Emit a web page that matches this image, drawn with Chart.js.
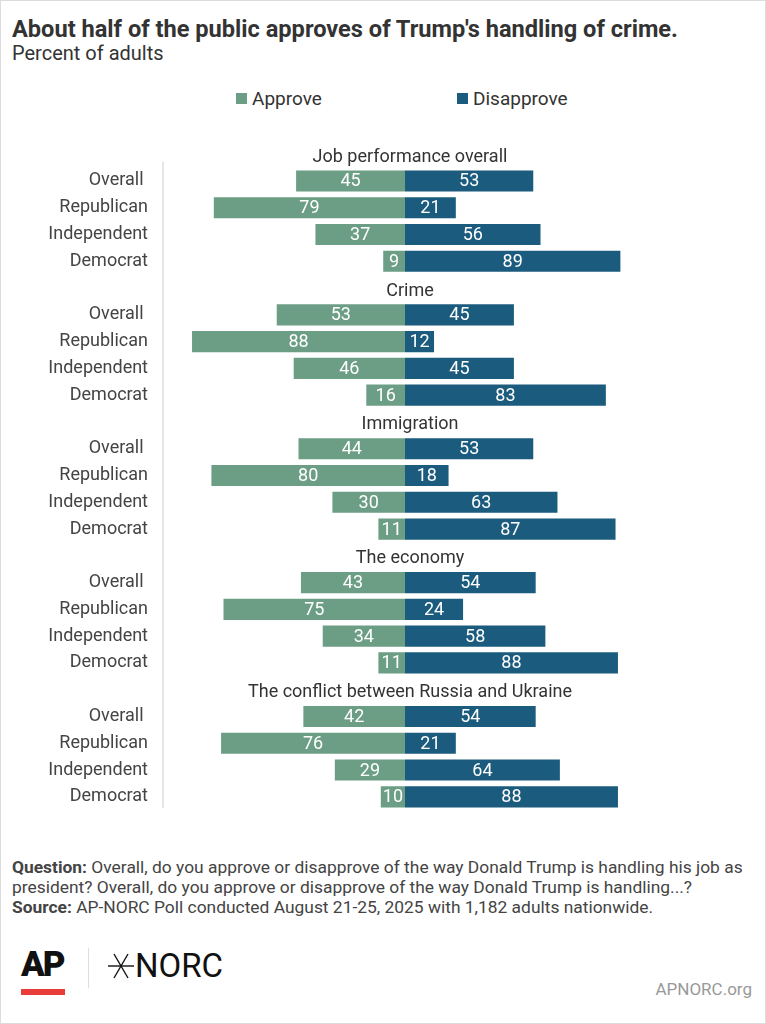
<!DOCTYPE html>
<html lang="en">
<head>
    <meta charset="UTF-8">
    <title>Trump approval by issue</title>
    <script src="https://cdn.jsdelivr.net/npm/chart.js@4.4.1/dist/chart.umd.min.js"></script>
    <style>
        body {
            margin: 0;
            width: 766px;
            height: 1024px;
            background: #fff;
            font-family: Roboto, sans-serif;
            color: #333;
            position: relative;
            overflow: hidden;
        }
        .frame {
            position: absolute;
            left: 0; top: 0;
            width: 764px; height: 1022px;
            border: 1px solid #dcdcdc;
        }
        .title {
            position: absolute;
            left: 12px; top: 15px;
            font-size: 23.6px;
            font-weight: bold;
            color: #333;
        }
        .subtitle {
            position: absolute;
            left: 12px; top: 41px;
            font-size: 20px;
            color: #333;
        }
        .legend {
            position: absolute;
            top: 87px;
            font-size: 19px;
            color: #333;
        }
        .legend span.sw {
            display: inline-block;
            width: 11px; height: 11px;
            margin-right: 5px;
            vertical-align: 1px;
        }
        .chart-box {
            position: absolute;
            left: 0; top: 115px;
            width: 766px; height: 721px;
        }
        .notes {
            position: absolute;
            left: 12px; top: 857px;
            width: 745px;
            font-size: 17.4px;
            line-height: 20px;
            color: #444;
        }
        .ap {
            position: absolute;
            left: 21px; top: 944px;
            font-weight: 900;
            font-size: 35px;
            letter-spacing: -2px;
            color: #111;
        }
        .apbar {
            position: absolute;
            left: 21px; top: 989px;
            width: 44px; height: 6px;
            background: #ea3b3b;
        }
        .sep {
            position: absolute;
            left: 88px; top: 948px;
            width: 1px; height: 40px;
            background: #ddd;
        }
        .norc {
            position: absolute;
            left: 108px; top: 946px;
            font-size: 33px;
            color: #111;
        }
        .norc svg { vertical-align: -2px; margin-right: 1px; }
        .site {
            position: absolute;
            right: 14px; top: 979px;
            font-size: 17px;
            color: #999;
        }
    </style>
</head>
<body>
    <div class="frame"></div>
    <div class="title">About half of the public approves of Trump's handling of crime.</div>
    <div class="subtitle">Percent of adults</div>
    <div class="legend" style="left:236px"><span class="sw" style="background:#6b9e85"></span>Approve</div>
    <div class="legend" style="left:457px"><span class="sw" style="background:#1b5b7d"></span>Disapprove</div>

    <div class="chart-box">
        <canvas id="chart"></canvas>
    </div>

    <div class="notes">
        <b>Question:</b> Overall, do you approve or disapprove of the way Donald Trump is handling his job as president? Overall, do you approve or disapprove of the way Donald Trump is handling...?<br>
        <b>Source:</b> AP-NORC Poll conducted August 21-25, 2025 with 1,182 adults nationwide.
    </div>

    <div class="ap">AP</div>
    <div class="apbar"></div>
    <div class="sep"></div>
    <div class="norc"><svg width="26" height="26" viewBox="0 0 26 26"><g stroke="#111" stroke-width="1.4"><line x1="0" y1="13" x2="26" y2="13"/><line x1="6" y1="1" x2="20" y2="25"/><line x1="20" y1="1" x2="6" y2="25"/></g></svg>NORC</div>
    <div class="site">APNORC.org</div>

    <script>
        const groups = ["Job performance overall", "Crime", "Immigration", "The economy", "The conflict between Russia and Ukraine"];
        const segments = ["Overall ", "Republican", "Independent", "Democrat"];
        const approve = [
            [45, 79, 37, 9],
            [53, 88, 46, 16],
            [44, 80, 30, 11],
            [43, 75, 34, 11],
            [42, 76, 29, 10]
        ];
        const disapprove = [
            [53, 21, 56, 89],
            [45, 12, 45, 83],
            [53, 18, 63, 87],
            [54, 24, 58, 88],
            [54, 21, 64, 88]
        ];

        const GREEN = "#6b9e85";
        const BLUE = "#1b5b7d";
        const FONT = "Roboto, sans-serif";

        // one header row + four rows per group
        const labels = [];
        const approveData = [];
        const disapproveData = [];
        const headerIdx = [];
        groups.forEach((g, i) => {
            headerIdx.push(labels.length);
            labels.push("");
            approveData.push(null);
            disapproveData.push(null);
            segments.forEach((s, j) => {
                labels.push(s);
                approveData.push(-approve[i][j]);
                disapproveData.push(disapprove[i][j]);
            });
        });

        // group titles, value labels and the left rule
        const extras = {
            id: "extras",
            afterDatasetsDraw(chart) {
                const ctx = chart.ctx;
                const x = chart.scales.x;
                const y = chart.scales.y;
                ctx.save();

                ctx.strokeStyle = "#e6e6e6";
                ctx.lineWidth = 2;
                ctx.beginPath();
                ctx.moveTo(chart.chartArea.left, y.getPixelForValue(1) - 19);
                ctx.lineTo(chart.chartArea.left, chart.chartArea.bottom - 2);
                ctx.stroke();

                ctx.font = "18px " + FONT;
                ctx.fillStyle = "#333";
                ctx.textAlign = "center";
                ctx.textBaseline = "middle";
                headerIdx.forEach((idx, i) => {
                    ctx.fillText(groups[i], x.getPixelForValue(0) + 5, y.getPixelForValue(idx) + 3);
                });

                ctx.fillStyle = "#fff";
                ctx.font = "18px " + FONT;
                chart.data.datasets.forEach((ds, di) => {
                    chart.getDatasetMeta(di).data.forEach((bar, k) => {
                        const v = ds.data[k];
                        if (v === null) return;
                        const cx = (bar.x + bar.base) / 2;
                        ctx.fillText(Math.abs(v), cx, bar.y + 1);
                    });
                });
                ctx.restore();
            }
        };

        new Chart(document.getElementById("chart"), {
            type: "bar",
            data: {
                labels: labels,
                datasets: [
                    { label: "Approve", data: approveData, backgroundColor: GREEN },
                    { label: "Disapprove", data: disapproveData, backgroundColor: BLUE }
                ]
            },
            options: {
                indexAxis: "y",
                responsive: true,
                maintainAspectRatio: false,
                animation: false,
                layout: { padding: { left: 0, right: 119, top: 0, bottom: 0 } },
                datasets: { bar: { categoryPercentage: 1, barPercentage: 0.79 } },
                plugins: {
                    legend: { display: false },
                    tooltip: { enabled: false }
                },
                scales: {
                    x: {
                        stacked: true,
                        min: -100,
                        max: 100,
                        display: false
                    },
                    y: {
                        stacked: true,
                        grid: { display: false, drawTicks: false },
                        border: { display: false },
                        ticks: {
                            color: "#444",
                            font: { family: FONT, size: 18 },
                            padding: 15,
                            autoSkip: false
                        },
                        afterFit(scale) { scale.width = 163; }
                    }
                }
            },
            plugins: [extras]
        });
    </script>
</body>
</html>
